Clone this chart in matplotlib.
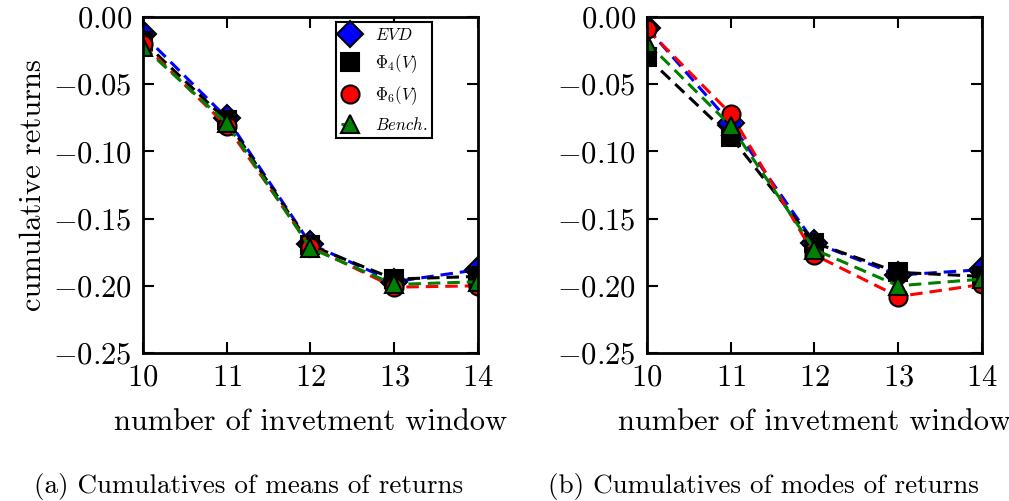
import matplotlib
matplotlib.use("Agg")
import matplotlib.pyplot as plt

plt.rcParams['font.family'] = 'serif'
plt.rcParams['font.serif'] = ['cmr10']
plt.rcParams['mathtext.fontset'] = 'cm'
plt.rcParams['axes.formatter.use_mathtext'] = True
plt.rcParams['lines.scale_dashes'] = False

# --- data ---
windows = [10, 11, 12, 13, 14]

# (a) cumulatives of means of returns
mean_evd = [-0.013, -0.075, -0.169, -0.197, -0.188]
mean_phi4 = [-0.018, -0.077, -0.170, -0.195, -0.193]
mean_phi6 = [-0.020, -0.081, -0.171, -0.201, -0.200]
mean_bench = [-0.022, -0.079, -0.172, -0.199, -0.197]

# (b) cumulatives of modes of returns
mode_evd = [-0.008, -0.079, -0.168, -0.192, -0.188]
mode_phi4 = [-0.030, -0.089, -0.168, -0.190, -0.193]
mode_phi6 = [-0.009, -0.072, -0.177, -0.208, -0.199]
mode_bench = [-0.019, -0.081, -0.173, -0.200, -0.195]

labels = [r'$EVD$', r'$\Phi_4(V)$', r'$\Phi_6(V)$', r'$Bench.$']
colors = ['blue', 'black', 'red', 'green']
markers = ['D', 's', 'o', '^']

yticks = [0.00, -0.05, -0.10, -0.15, -0.20, -0.25]
ytick_labels = ['0.00', '-0.05', '-0.10', '-0.15', '-0.20', '-0.25']

fig = plt.figure(figsize=(10.09, 5.01), dpi=100)
ax1 = fig.add_axes([0.1417, 0.2954, 0.332, 0.6707])
ax2 = fig.add_axes([0.6412, 0.2954, 0.332, 0.6707])

panels = [
    (ax1, [mean_evd, mean_phi4, mean_phi6, mean_bench]),
    (ax2, [mode_evd, mode_phi4, mode_phi6, mode_bench]),
]

for ax, series in panels:
    for vals, lab, col, mk in zip(series, labels, colors, markers):
        ax.plot(windows, vals, linestyle='--', dashes=(9, 5), linewidth=2.2,
                color=col, marker=mk, markersize=13, markeredgecolor='black',
                markeredgewidth=1.5, label=lab)
    ax.set_xlim(10, 14)
    ax.set_ylim(-0.25, 0.0)
    ax.set_xticks(windows)
    ax.set_xticklabels([r'$%d$' % w for w in windows])
    ax.set_yticks(yticks)
    ax.set_yticklabels([r'$%s$' % t for t in ytick_labels])
    ax.tick_params(direction='in', length=8, width=1.5, top=True, right=True,
                   labelsize=22, pad=8)
    for sp in ax.spines.values():
        sp.set_linewidth(2)
    ax.set_xlabel('number of invetment window', fontsize=22, labelpad=12)

ax1.set_ylabel('cumulative returns', fontsize=22)

leg = ax1.legend(loc='upper right', bbox_to_anchor=(0.863, 0.985),
                 fontsize=12, numpoints=1, handlelength=1.1,
                 fancybox=False, framealpha=1, edgecolor='black',
                 borderpad=0.3, labelspacing=0.55, handletextpad=0.9,
                 borderaxespad=0.0)
leg.get_frame().set_linewidth(1.5)

fig.text(0.246, 0.028, '(a) Cumulatives of means of returns', fontsize=19.5,
         ha='center', va='center')
fig.text(0.757, 0.028, '(b) Cumulatives of modes of returns', fontsize=19.5,
         ha='center', va='center')

fig.savefig('out.png', dpi=100)
